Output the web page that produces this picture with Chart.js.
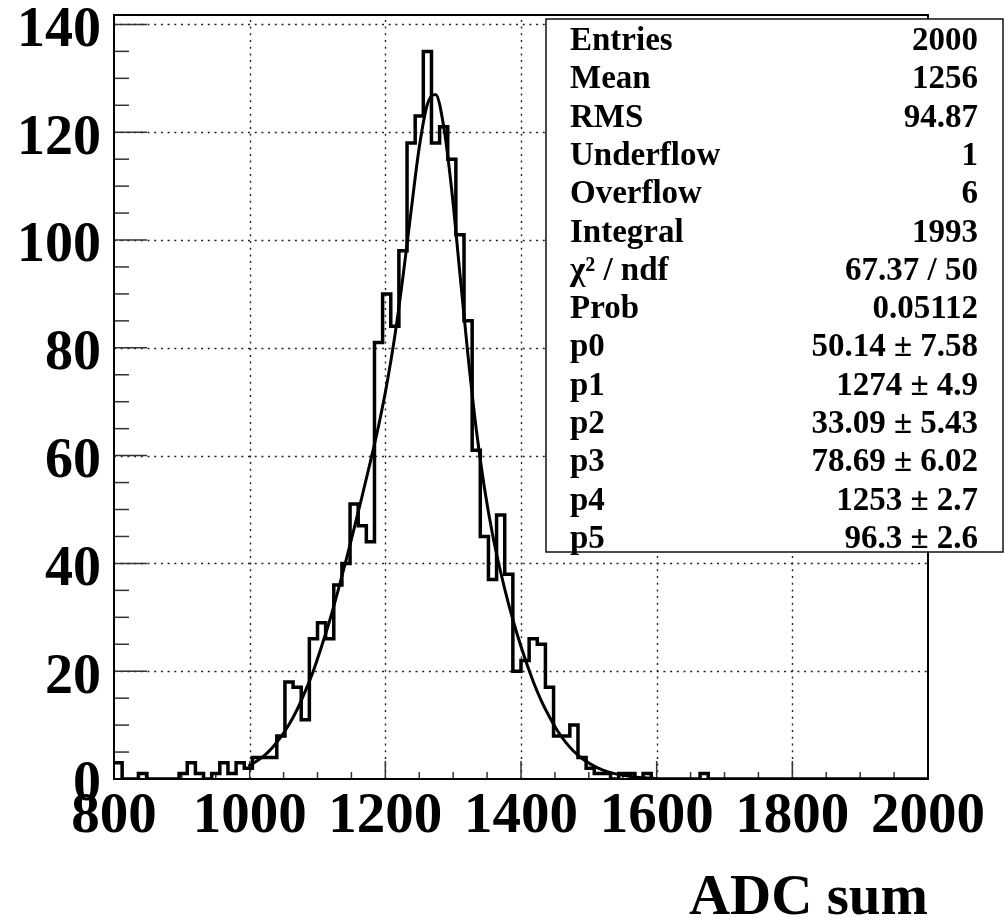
<!DOCTYPE html>
<html>
<head>
<meta charset="utf-8">
<script src="https://cdn.jsdelivr.net/npm/chart.js@4"></script>
<style>
  body { margin: 0; background: #fff; }
  #wrap { width: 1005px; height: 918px; position: relative; }
</style>
</head>
<body>
<div id="wrap"><canvas id="adcChart"></canvas></div>
<script>
// histogram: 100 bins of 12 from 800 to 2000
const binStart = 800;
const binWidth = 12;
const binCounts = [
  3, 0, 0, 1, 0, 0, 0, 0, 1, 3,
  1, 0, 1, 3, 1, 3, 2, 4, 4, 4,
  8, 18, 17, 11, 26, 29, 26, 36, 40, 51,
  47, 44, 81, 90, 84, 98, 118, 123, 135, 118,
  121, 115, 101, 85, 61, 45, 37, 49, 38, 20,
  22, 26, 25, 17, 8, 8, 10, 4, 2, 1,
  1, 0, 1, 1, 0, 1, 0, 0, 0, 0,
  0, 0, 1, 0, 0, 0, 0, 0, 0, 0,
  0, 0, 0, 0, 0, 0, 0, 0, 0, 0,
  0, 0, 0, 0, 0, 0, 0, 0, 0, 0
];

// fit curve
const fitX = [998, 1010, 1022, 1034, 1046, 1058, 1070, 1082, 1094, 1106, 1118, 1130, 1142, 1154, 1166,
  1178, 1190, 1202, 1214, 1226, 1238, 1250, 1262, 1274, 1286, 1298, 1310, 1322, 1334, 1346, 1358,
  1370, 1382, 1394, 1406, 1418, 1430, 1442, 1454, 1466, 1478, 1490, 1502, 1514, 1526, 1538, 1550,
  1562, 1574, 1586, 1598];
const fitY = [2.4, 3.3, 4.4, 5.9, 7.8, 10.1, 12.9, 16.3, 20.1, 24.6, 29.4, 34.8, 40.5, 46.5, 52.6,
  58.9, 65.5, 73.1, 82.2, 93.2, 105.4, 117.2, 125.2, 127.0, 121.1, 109.1, 93.7, 78.4, 64.9, 54.1, 45.4,
  38.4, 32.3, 27.0, 22.3, 18.1, 14.5, 11.5, 8.9, 6.8, 5.1, 3.8, 2.8, 2.0, 1.4, 1.0, 0.7,
  0.45, 0.3, 0.2, 0.1];

const statLabels = ['Entries', 'Mean', 'RMS', 'Underflow', 'Overflow', 'Integral', 'χ² / ndf', 'Prob',
  'p0', 'p1', 'p2', 'p3', 'p4', 'p5'];
const statValues = ['2000', '1256', '94.87', '1', '6', '1993', '67.37 / 50', '0.05112',
  '50.14 ± 7.58', '1274 ± 4.9', '33.09 ± 5.43', '78.69 ± 6.02', '1253 ± 2.7', '96.3 ± 2.6'];

const xMin = 800, xMax = 2000, yMin = 0, yMax = 141.75;
const serif = '"Liberation Serif", "DejaVu Serif", serif';

const histPoints = binCounts.map((c, i) => ({ x: binStart + i * binWidth, y: c }));
histPoints.push({ x: binStart + binCounts.length * binWidth, y: binCounts[binCounts.length - 1] });
const fitPoints = fitX.map((x, i) => ({ x: x, y: fitY[i] }));

// ROOT style frame, dotted grid and inside ticks
const framePlugin = {
  id: 'rootFrame',
  beforeDatasetsDraw(chart) {
    const ctx = chart.ctx;
    const xs = chart.scales.x, ys = chart.scales.y;
    const a = chart.chartArea;
    ctx.save();

    ctx.strokeStyle = '#222';
    ctx.lineWidth = 1.4;
    ctx.setLineDash([2, 4.7]);
    for (let v = 1000; v < 2000; v += 200) {
      const px = Math.round(xs.getPixelForValue(v)) + 0.5;
      ctx.beginPath(); ctx.moveTo(px, a.bottom); ctx.lineTo(px, a.top); ctx.stroke();
    }
    for (let v = 20; v <= 140; v += 20) {
      const py = Math.round(ys.getPixelForValue(v)) + 0.5;
      ctx.beginPath(); ctx.moveTo(a.left, py); ctx.lineTo(a.right, py); ctx.stroke();
    }
    ctx.setLineDash([]);

    ctx.strokeStyle = '#333';
    ctx.lineWidth = 1.5;
    for (let v = 0; v <= 140; v += 5) {
      const py = ys.getPixelForValue(v);
      const len = v % 20 === 0 ? 33 : 15;
      ctx.beginPath(); ctx.moveTo(a.left, py); ctx.lineTo(a.left + len, py); ctx.stroke();
    }
    for (let v = 800; v <= 2000; v += 50) {
      const px = xs.getPixelForValue(v);
      const len = v % 200 === 0 ? 18 : 7;
      ctx.beginPath(); ctx.moveTo(px, a.bottom); ctx.lineTo(px, a.bottom - len); ctx.stroke();
    }

    ctx.strokeStyle = '#000';
    ctx.lineWidth = 2;
    ctx.strokeRect(a.left, a.top, a.right - a.left, a.bottom - a.top);
    ctx.restore();
  },
  afterDraw(chart) {
    const ctx = chart.ctx;
    ctx.save();
    ctx.fillStyle = '#fff';
    ctx.fillRect(546, 19, 457, 533);
    ctx.strokeStyle = '#111';
    ctx.lineWidth = 1.5;
    ctx.strokeRect(546, 19, 457, 533);
    ctx.fillStyle = '#000';
    ctx.font = 'bold 33px ' + serif;
    ctx.textBaseline = 'alphabetic';
    statLabels.forEach((lab, i) => {
      const y = 50 + i * 38.3;
      ctx.textAlign = 'left';
      ctx.fillText(lab, 570, y);
      ctx.textAlign = 'right';
      ctx.fillText(statValues[i], 978, y);
    });
    ctx.restore();
  }
};

new Chart(document.getElementById('adcChart'), {
  type: 'line',
  data: {
    datasets: [
      {
        label: 'ADC sum',
        data: histPoints,
        stepped: 'before',
        borderColor: '#000',
        borderWidth: 3.5,
        pointRadius: 0,
        fill: false
      },
      {
        label: 'fit',
        data: fitPoints,
        cubicInterpolationMode: 'monotone',
        borderColor: '#000',
        borderWidth: 3,
        pointRadius: 0,
        fill: false
      }
    ]
  },
  options: {
    responsive: true,
    maintainAspectRatio: false,
    animation: false,
    layout: { padding: { top: 15, right: 77, left: 0, bottom: 0 } },
    plugins: {
      legend: { display: false },
      tooltip: { enabled: false }
    },
    scales: {
      x: {
        type: 'linear',
        min: xMin,
        max: xMax,
        grid: { display: false, drawTicks: false },
        border: { display: false },
        ticks: {
          stepSize: 200,
          includeBounds: false,
          padding: 4,
          maxRotation: 0,
          color: '#000',
          font: { family: serif, size: 57, weight: 'bold' },
          callback: (v) => String(v)
        },
        title: {
          display: true,
          text: 'ADC sum',
          align: 'end',
          color: '#000',
          font: { family: serif, size: 57, weight: 'bold', lineHeight: 1 },
          padding: { top: 0, bottom: -10 }
        },
        afterFit(scale) {
          scale.height = 139;
          scale.paddingLeft = 0;
          scale.paddingRight = 0;
        }
      },
      y: {
        min: yMin,
        max: yMax,
        grid: { display: false, drawTicks: false },
        border: { display: false },
        ticks: {
          stepSize: 20,
          includeBounds: false,
          padding: 13,
          labelOffset: 7,
          color: '#000',
          font: { family: serif, size: 56, weight: 'bold' },
          callback: (v) => String(v)
        },
        afterFit(scale) {
          scale.width = 114;
          scale.paddingTop = 0;
          scale.paddingBottom = 0;
        }
      }
    }
  },
  plugins: [framePlugin]
});
</script>
</body>
</html>
